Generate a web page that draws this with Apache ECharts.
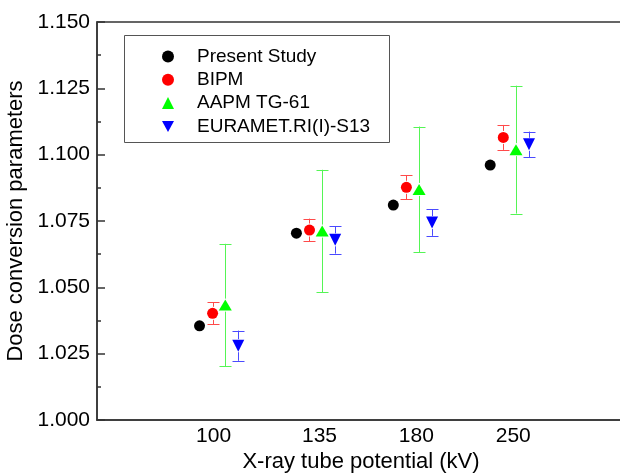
<!DOCTYPE html>
<html>
<head>
<meta charset="utf-8">
<script src="https://cdn.jsdelivr.net/npm/echarts@6/dist/echarts.min.js"></script>
<style>html,body{margin:0;padding:0;background:#fff}#c{width:620px;height:476px}</style>
</head>
<body>
<div id="c"></div>
<script>
// ---- data ----
const categories = ['100', '135', '180', '250'];
const seriesNames = ['Present Study', 'BIPM', 'AAPM TG-61', 'EURAMET.RI(I)-S13'];
const presentStudy = [1.0355, 1.0704, 1.0810, 1.0961];
const presentErr   = [0.0010, 0.0010, 0.0010, 0.0010];
const bipm         = [1.0402, 1.0716, 1.0877, 1.1065];
const bipmErr      = [0.0041, 0.0043, 0.0045, 0.0047];
const aapm         = [1.0433, 1.0712, 1.0869, 1.1019];
const aapmErr      = [0.0231, 0.0231, 0.0237, 0.0241];
const euramet      = [1.0280, 1.0679, 1.0744, 1.1039];
const eurametErr   = [0.0057, 0.0052, 0.0050, 0.0048];
const yTicks = [1.000, 1.025, 1.050, 1.075, 1.100, 1.125, 1.150];

// ---- styling / layout ----
const FONT = "'Liberation Sans', Arial, sans-serif";
const offsets = [-0.238, -0.103, 0.028, 0.162];
const markerColors = ['#000000', '#ff0000', '#00ff00', '#0000ff'];
const barColors = ['#000000', '#ff4a4a', '#55f555', '#4a4aff'];
const symbols = ['circle', 'circle', 'triangle', 'triangle'];
const symbolRot = [0, 0, 0, 180];
const symbolSizes = [11, 11, [13, 11], [12, 12]];
const legendIcons = ['circle', 'circle', 'triangle', 'path://M0,0L12,0L6,11Z'];

const values = [presentStudy, bipm, aapm, euramet];
const errs = [presentErr, bipmErr, aapmErr, eurametErr];

const series = [];
values.forEach((vals, s) => {
  const dataE = vals.map((v, i) => [i + offsets[s], v, errs[s][i]]);
  series.push({
    type: 'custom',
    name: seriesNames[s] + ' err',
    z: 2,
    silent: true,
    data: dataE,
    renderItem: function (params, api) {
      const x = api.value(0), y = api.value(1), e = api.value(2);
      const c = api.coord([x, y]);
      const t = api.coord([x, y + e]);
      const b = api.coord([x, y - e]);
      const px = Math.round(c[0]) + 0.5;
      const hw = 6, gap = 6.5;
      const st = { stroke: barColors[s], lineWidth: 1 };
      const ch = [];
      if (s > 0) {
        ch.push({ type: 'line', shape: { x1: px - hw, y1: Math.round(t[1]) + 0.5, x2: px + hw, y2: Math.round(t[1]) + 0.5 }, style: st });
        ch.push({ type: 'line', shape: { x1: px - hw, y1: Math.round(b[1]) + 0.5, x2: px + hw, y2: Math.round(b[1]) + 0.5 }, style: st });
        if (t[1] < c[1] - gap) ch.push({ type: 'line', shape: { x1: px, y1: t[1], x2: px, y2: c[1] - gap }, style: st });
        if (b[1] > c[1] + gap) ch.push({ type: 'line', shape: { x1: px, y1: c[1] + gap, x2: px, y2: b[1] }, style: st });
      }
      return { type: 'group', children: ch };
    }
  });
});
values.forEach((vals, s) => {
  series.push({
    type: 'scatter',
    name: seriesNames[s],
    z: 3,
    symbol: symbols[s],
    symbolRotate: symbolRot[s],
    symbolSize: symbolSizes[s],
    itemStyle: { color: markerColors[s], opacity: 1 },
    data: vals.map((v, i) => [i + offsets[s], v])
  });
});

const chart = echarts.init(document.getElementById('c'), null, { renderer: 'canvas' });
chart.setOption({
  animation: false,
  backgroundColor: '#ffffff',
  textStyle: { fontFamily: FONT },
  grid: { left: 97, top: 22, right: -5, bottom: 56, show: true, borderColor: '#333', borderWidth: 1.5, backgroundColor: 'transparent', containLabel: false, outerBoundsMode: 'none' },
  graphic: [{
    type: 'rect', z: 1,
    shape: { x: 124.5, y: 35.5, width: 265, height: 107 },
    style: { fill: '#fff', stroke: '#555', lineWidth: 1 }
  }],
  legend: {
    orient: 'vertical',
    left: 162, top: 46.5,
    itemWidth: 12, itemHeight: 12, itemGap: 3.3,
    padding: 0,
    z: 5,
    data: seriesNames.map((n, i) => ({ name: n, icon: legendIcons[i], itemStyle: { color: markerColors[i] } })),
    textStyle: { fontFamily: FONT, fontSize: 19, lineHeight: 20, color: '#000', padding: [0, 0, 0, 18] },
    selectedMode: false
  },
  xAxis: {
    type: 'value',
    min: -1.296, max: 4.153,
    name: 'X-ray tube potential (kV)',
    nameLocation: 'middle', nameGap: 31,
    nameTextStyle: { fontFamily: FONT, fontSize: 22, color: '#000', lineHeight: 22 },
    axisLine: { show: true, onZero: false, lineStyle: { color: '#333', width: 1.5 } },
    axisTick: { show: false },
    splitLine: { show: false },
    axisLabel: {
      customValues: [0, 1, 2, 3],
      margin: 5.5,
      fontFamily: FONT, fontSize: 21, color: '#000', lineHeight: 21,
      formatter: function (v) {
        const i = Math.round(v);
        return i === 0 ? '{s|' + categories[i] + '}' : categories[i];
      },
      rich: { s: { fontFamily: FONT, fontSize: 21, color: '#000', padding: [0, 18, 0, 0] } }
    }
  },
  yAxis: {
    type: 'value',
    min: 1.0, max: 1.15, interval: 0.025,
    name: 'Dose conversion parameters',
    nameLocation: 'middle', nameGap: 62,
    nameTextStyle: { fontFamily: FONT, fontSize: 22, color: '#000', lineHeight: 22 },
    axisLine: { show: true, onZero: false, lineStyle: { color: '#333', width: 1.5 } },
    axisTick: { show: true, inside: true, length: 8, lineStyle: { color: '#333', width: 1.5 } },
    minorTick: { show: true, splitNumber: 2, length: 4, lineStyle: { color: '#333', width: 1.5 } },
    splitLine: { show: false },
    axisLabel: {
      margin: 7, fontFamily: FONT, fontSize: 21, color: '#000',
      formatter: function (v) {
        let best = yTicks[0];
        yTicks.forEach(t => { if (Math.abs(t - v) < Math.abs(best - v)) best = t; });
        return best.toFixed(3);
      }
    }
  },
  series: series
});
</script>
</body>
</html>
